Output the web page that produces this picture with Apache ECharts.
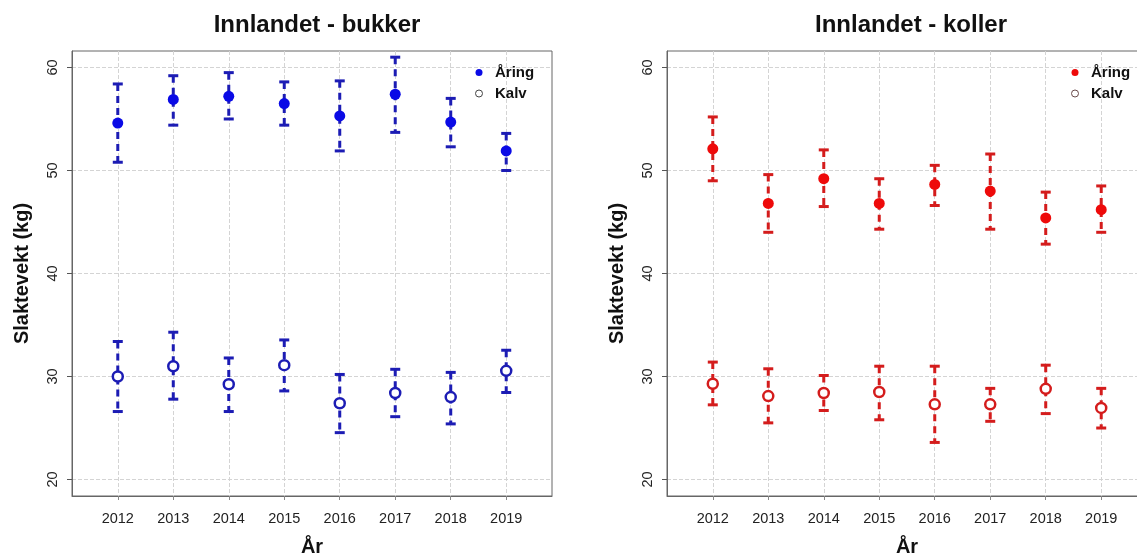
<!DOCTYPE html>
<html><head><meta charset="utf-8">
<script src="https://cdn.jsdelivr.net/npm/echarts@6/dist/echarts.min.js"></script>
<style>html,body{margin:0;padding:0;background:#fff}#c{width:1137px;height:553px}</style>
</head><body><div id="c"></div>
<script>
const years = [2012, 2013, 2014, 2015, 2016, 2017, 2018, 2019];
const yTicks = [20, 30, 40, 50, 60];

const bukkerAaringMean = [54.6, 56.9, 57.2, 56.5, 55.3, 57.4, 54.7, 51.9];
const bukkerAaringLow  = [50.8, 54.4, 55.0, 54.4, 51.9, 53.7, 52.3, 50.0];
const bukkerAaringHigh = [58.4, 59.2, 59.5, 58.6, 58.7, 61.0, 57.0, 53.6];
const bukkerKalvMean   = [30.0, 31.0, 29.25, 31.1, 27.4, 28.4, 28.0, 30.55];
const bukkerKalvLow    = [26.6, 27.8, 26.6, 28.6, 24.55, 26.1, 25.4, 28.45];
const bukkerKalvHigh   = [33.4, 34.3, 31.8, 33.55, 30.2, 30.7, 30.4, 32.55];

const kollerAaringMean = [52.1, 46.8, 49.2, 46.8, 48.65, 48.0, 45.4, 46.2];
const kollerAaringLow  = [49.0, 44.0, 46.5, 44.3, 46.6, 44.3, 42.85, 44.0];
const kollerAaringHigh = [55.2, 49.6, 52.0, 49.2, 50.5, 51.6, 47.9, 48.5];
const kollerKalvMean   = [29.3, 28.1, 28.4, 28.5, 27.3, 27.3, 28.8, 26.95];
const kollerKalvLow    = [27.25, 25.5, 26.7, 25.8, 23.6, 25.65, 26.4, 25.0];
const kollerKalvHigh   = [31.4, 30.75, 30.1, 31.0, 31.0, 28.85, 31.1, 28.85];

const FONT = '"Liberation Sans", Arial, sans-serif';
const BLUE_PT = '#0a0ae6', BLUE_BAR = '#1c1cb4';
const RED_PT = '#ee0a0a', RED_BAR = '#d41c1c';

function pts(mean){ return years.map((y,i)=>[y, mean[i]]); }
function bars(lo, hi){ return years.map((y,i)=>[y, lo[i], hi[i]]); }

function errRender(color){
  return function(params, api){
    const x = api.value(0), lo = api.value(1), hi = api.value(2);
    const pLo = api.coord([x, lo]), pHi = api.coord([x, hi]);
    const hw = 5;
    const st = {stroke: color, lineWidth: 3};
    return {type:'group', children:[
      {type:'line', shape:{x1:pHi[0], y1:pHi[1], x2:pLo[0], y2:pLo[1]}, style:{stroke:color, lineWidth:3, lineDash:[7,5]}},
      {type:'line', shape:{x1:pHi[0]-hw, y1:pHi[1], x2:pHi[0]+hw, y2:pHi[1]}, style:st},
      {type:'line', shape:{x1:pLo[0]-hw, y1:pLo[1], x2:pLo[0]+hw, y2:pLo[1]}, style:st}
    ]};
  };
}

function xAx(gi){
  return {
    type:'value', gridIndex: gi, min: 2011.175, max: 2019.825,
    axisLine:{show:true, lineStyle:{color:'#666', width:1}},
    axisTick:{show:true, customValues: years, length:6, lineStyle:{color:'#888', type:'dashed'}},
    axisLabel:{customValues: years, formatter: v => String(v), fontSize:14.5, color:'#222', margin:15, fontFamily:FONT},
    splitLine:{show:true, lineStyle:{color:'#d4d4d4', type:'dashed', width:1}},
    name:'År', nameLocation:'middle', nameGap:41,
    nameTextStyle:{fontSize:20, fontWeight:'bold', color:'#111', fontFamily:FONT}
  };
}
function yAx(gi){
  return {
    type:'value', gridIndex: gi, min: 18.4, max: 61.6,
    axisLine:{show:true, lineStyle:{color:'#666', width:1}},
    axisTick:{show:true, customValues: yTicks, length:5, lineStyle:{color:'#555'}},
    axisLabel:{customValues: yTicks, rotate:90, fontSize:14.5, color:'#222', margin:12, fontFamily:FONT},
    splitLine:{show:true, lineStyle:{color:'#d4d4d4', type:'dashed', width:1}},
    name:'Slaktevekt (kg)', nameLocation:'middle', nameGap:40, nameRotate:90,
    nameTextStyle:{fontSize:20, fontWeight:'bold', color:'#111', fontFamily:FONT}
  };
}

function legendFor(left, suffix, col, ring){
  return {
    left: left, top: 60, orient:'vertical', itemWidth:22, itemHeight:7, itemGap:6,
    selectedMode:false,
    formatter: n => n.split('_')[0],
    textStyle:{fontWeight:'bold', fontSize:15, color:'#111', fontFamily:FONT},
    data:[
      {name:'Åring_'+suffix, icon:'circle', itemStyle:{color:col, borderWidth:0}},
      {name:'Kalv_'+suffix, icon:'circle', itemStyle:{color:'#ffffff', borderColor:ring, borderWidth:1}}
    ]
  };
}

const option = {
  animation:false,
  backgroundColor:'#fff',
  title:[
    {text:'Innlandet - bukker', left:312, top:8, textAlign:'center', textStyle:{fontSize:24, fontWeight:'bold', color:'#111', fontFamily:FONT}},
    {text:'Innlandet - koller', left:906, top:8, textAlign:'center', textStyle:{fontSize:24, fontWeight:'bold', color:'#111', fontFamily:FONT}}
  ],
  legend:[legendFor(470,'b',BLUE_PT,'#444'), legendFor(1066,'k',RED_PT,'#6a4a4a')],
  grid:[
    {left:72, top:51, width:480, height:445, show:true, borderColor:'#666', borderWidth:1, containLabel:false, outerBoundsMode:'none'},
    {left:667, top:51, width:480, height:445, show:true, borderColor:'#666', borderWidth:1, containLabel:false, outerBoundsMode:'none'}
  ],
  xAxis:[xAx(0), xAx(1)],
  yAxis:[yAx(0), yAx(1)],
  series:[
    {type:'custom', name:'eb1', xAxisIndex:0, yAxisIndex:0, data:bars(bukkerAaringLow,bukkerAaringHigh), renderItem:errRender(BLUE_BAR), z:2},
    {type:'custom', name:'eb2', xAxisIndex:0, yAxisIndex:0, data:bars(bukkerKalvLow,bukkerKalvHigh), renderItem:errRender(BLUE_BAR), z:2},
    {type:'scatter', name:'Åring_b', xAxisIndex:0, yAxisIndex:0, data:pts(bukkerAaringMean), symbol:'circle', symbolSize:11, itemStyle:{color:BLUE_PT, opacity:1}, z:3},
    {type:'scatter', name:'Kalv_b', xAxisIndex:0, yAxisIndex:0, data:pts(bukkerKalvMean), symbol:'circle', symbolSize:10, itemStyle:{color:'#fff', borderColor:BLUE_BAR, borderWidth:2.5, opacity:1}, z:3},
    {type:'custom', name:'eb3', xAxisIndex:1, yAxisIndex:1, data:bars(kollerAaringLow,kollerAaringHigh), renderItem:errRender(RED_BAR), z:2},
    {type:'custom', name:'eb4', xAxisIndex:1, yAxisIndex:1, data:bars(kollerKalvLow,kollerKalvHigh), renderItem:errRender(RED_BAR), z:2},
    {type:'scatter', name:'Åring_k', xAxisIndex:1, yAxisIndex:1, data:pts(kollerAaringMean), symbol:'circle', symbolSize:11, itemStyle:{color:RED_PT, opacity:1}, z:3},
    {type:'scatter', name:'Kalv_k', xAxisIndex:1, yAxisIndex:1, data:pts(kollerKalvMean), symbol:'circle', symbolSize:10, itemStyle:{color:'#fff', borderColor:RED_BAR, borderWidth:2.5, opacity:1}, z:3}
  ]
};
const chart = echarts.init(document.getElementById('c'), null, {renderer:'canvas'});
chart.setOption(option);
</script>
</body></html>
